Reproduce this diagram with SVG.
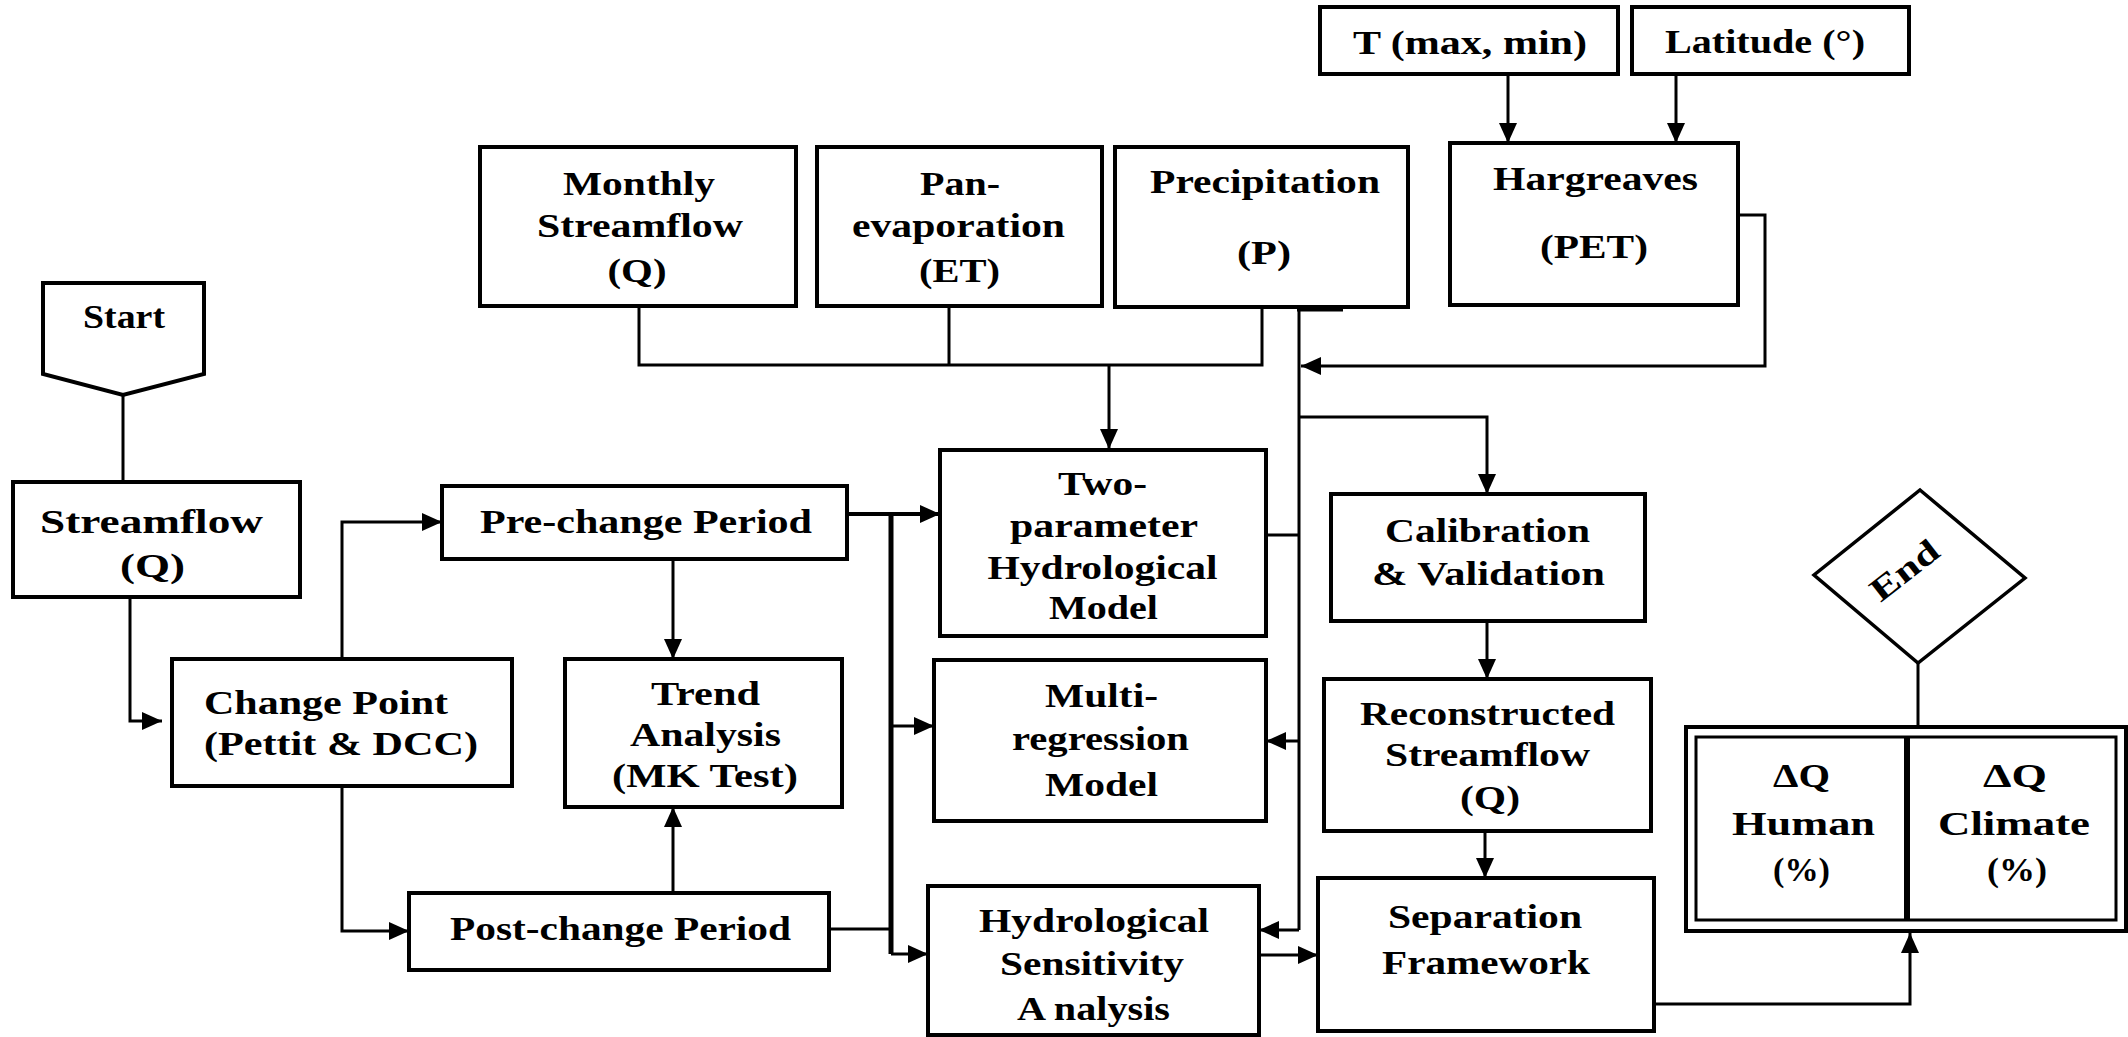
<svg xmlns="http://www.w3.org/2000/svg" width="2128" height="1037" viewBox="0 0 2128 1037">
<style>
.box{fill:#fff;stroke:#000;stroke-width:4}
.t{font-family:"Liberation Serif","Times New Roman",serif;font-weight:bold;font-size:33px;fill:#000;text-anchor:middle}
.c{fill:none;stroke:#000;stroke-width:3}
.a{marker-end:url(#ah)}
</style>
<defs>
<marker id="ah" markerUnits="userSpaceOnUse" markerWidth="22" markerHeight="18" refX="20" refY="9" orient="auto">
<path d="M0,0 L20,9 L0,18 Z" fill="#000"/>
</marker>
</defs>
<rect width="2128" height="1037" fill="#fff"/>

<g id="connectors">
<!-- start to streamflow -->
<path class="c" d="M123,395 V482"/>
<path class="c a" d="M130,597 V721 H162"/>
<path class="c a" d="M342,659 V522 H442"/>
<path class="c a" d="M342,786 V931 H409"/>
<path class="c a" d="M673,559 V659"/>
<path class="c a" d="M673,893 V807"/>
<path class="c a" d="M847,514 H940" style="stroke-width:4"/>
<path class="c" d="M891,514 V954" style="stroke-width:5"/>
<path class="c a" d="M891,726 H934"/>
<path class="c a" d="M891,954 H928"/>
<path class="c" d="M829,929 H891"/>
<!-- top inputs -->
<path class="c" d="M639,306 V365 H1262 V308"/>
<path class="c" d="M949,306 V365"/>
<path class="c a" d="M1109,365 V449"/>
<path class="c a" d="M1508,74 V143"/>
<path class="c a" d="M1676,74 V143"/>
<path class="c a" d="M1738,215 H1765 V366 H1301"/>
<path class="c" d="M1297,309 H1343" style="stroke-width:5"/>
<path class="c" d="M1299,309 V930"/>
<path class="c a" d="M1299,417 H1487 V494"/>
<path class="c" d="M1266,535 H1299"/>
<path class="c a" d="M1299,741 H1266"/>
<path class="c a" d="M1299,930 H1259"/>
<path class="c a" d="M1259,955 H1318"/>
<path class="c a" d="M1487,621 V679"/>
<path class="c a" d="M1485,831 V878"/>
<path class="c a" d="M1654,1004 H1910 V933"/>
<path class="c" d="M1918,663 V727"/>
</g>

<g id="start">
<path class="box" d="M43,283 H204 V374 L123,395 L43,374 Z"/>
<text class="t" x="124" y="328" font-size="30" textLength="82" lengthAdjust="spacingAndGlyphs">Start</text>
</g>

<g id="streamflow">
<rect class="box" x="13" y="482" width="287" height="115"/>
<text class="t" x="151.5" y="533" textLength="223" lengthAdjust="spacingAndGlyphs">Streamflow</text>
<text class="t" x="152.5" y="577" textLength="65" lengthAdjust="spacingAndGlyphs">(Q)</text>
</g>

<g id="changepoint">
<rect class="box" x="172" y="659" width="340" height="127"/>
<text class="t" x="326" y="714" textLength="244" lengthAdjust="spacingAndGlyphs">Change Point</text>
<text class="t" x="341" y="755" textLength="274" lengthAdjust="spacingAndGlyphs">(Pettit &amp; DCC)</text>
</g>

<g id="prechange">
<rect class="box" x="442" y="486" width="405" height="73"/>
<text class="t" x="646" y="533" textLength="332" lengthAdjust="spacingAndGlyphs">Pre-change Period</text>
</g>

<g id="trend">
<rect class="box" x="565" y="659" width="277" height="148"/>
<text class="t" x="705.5" y="705" textLength="109" lengthAdjust="spacingAndGlyphs">Trend</text>
<text class="t" x="705.5" y="746" textLength="151" lengthAdjust="spacingAndGlyphs">Analysis</text>
<text class="t" x="705" y="787" textLength="186" lengthAdjust="spacingAndGlyphs">(MK Test)</text>
</g>

<g id="postchange">
<rect class="box" x="409" y="893" width="420" height="77"/>
<text class="t" x="620.5" y="940" textLength="341" lengthAdjust="spacingAndGlyphs">Post-change Period</text>
</g>

<g id="monthly">
<rect class="box" x="480" y="147" width="316" height="159"/>
<text class="t" x="639" y="195" textLength="152" lengthAdjust="spacingAndGlyphs">Monthly</text>
<text class="t" x="640" y="237" textLength="206" lengthAdjust="spacingAndGlyphs">Streamflow</text>
<text class="t" x="637" y="282" textLength="59" lengthAdjust="spacingAndGlyphs">(Q)</text>
</g>

<g id="panevap">
<rect class="box" x="817" y="147" width="285" height="159"/>
<text class="t" x="960" y="195" textLength="80" lengthAdjust="spacingAndGlyphs">Pan-</text>
<text class="t" x="958.5" y="237" textLength="213" lengthAdjust="spacingAndGlyphs">evaporation</text>
<text class="t" x="959.5" y="282" textLength="81" lengthAdjust="spacingAndGlyphs">(ET)</text>
</g>

<g id="precip">
<rect class="box" x="1115" y="147" width="293" height="160"/>
<text class="t" x="1265" y="193" textLength="230" lengthAdjust="spacingAndGlyphs">Precipitation</text>
<text class="t" x="1264" y="264" textLength="54" lengthAdjust="spacingAndGlyphs">(P)</text>
</g>

<g id="hargreaves">
<rect class="box" x="1450" y="143" width="288" height="162"/>
<text class="t" x="1595.5" y="190" textLength="205" lengthAdjust="spacingAndGlyphs">Hargreaves</text>
<text class="t" x="1594" y="258" textLength="108" lengthAdjust="spacingAndGlyphs">(PET)</text>
</g>

<g id="tmaxmin">
<rect class="box" x="1320" y="7" width="298" height="67"/>
<text class="t" x="1470" y="54" font-size="34" textLength="234" lengthAdjust="spacingAndGlyphs">T (max, min)</text>
</g>

<g id="latitude">
<rect class="box" x="1632" y="7" width="277" height="67"/>
<text class="t" x="1765" y="53" font-size="34" textLength="200" lengthAdjust="spacingAndGlyphs">Latitude (°)</text>
</g>

<g id="twoparam">
<rect class="box" x="940" y="450" width="326" height="186"/>
<text class="t" x="1102.5" y="495" textLength="89" lengthAdjust="spacingAndGlyphs">Two-</text>
<text class="t" x="1104" y="537" textLength="188" lengthAdjust="spacingAndGlyphs">parameter</text>
<text class="t" x="1102.5" y="579" textLength="230" lengthAdjust="spacingAndGlyphs">Hydrological</text>
<text class="t" x="1103.5" y="619" textLength="109" lengthAdjust="spacingAndGlyphs">Model</text>
</g>

<g id="multireg">
<rect class="box" x="934" y="660" width="332" height="161"/>
<text class="t" x="1101.5" y="707" textLength="113" lengthAdjust="spacingAndGlyphs">Multi-</text>
<text class="t" x="1100.5" y="750" textLength="177" lengthAdjust="spacingAndGlyphs">regression</text>
<text class="t" x="1101.5" y="796" textLength="113" lengthAdjust="spacingAndGlyphs">Model</text>
</g>

<g id="sensitivity">
<rect class="box" x="928" y="886" width="331" height="149"/>
<text class="t" x="1094" y="932" textLength="230" lengthAdjust="spacingAndGlyphs">Hydrological</text>
<text class="t" x="1092" y="975" textLength="184" lengthAdjust="spacingAndGlyphs">Sensitivity</text>
<text class="t" x="1093.5" y="1020" textLength="153" lengthAdjust="spacingAndGlyphs">A nalysis</text>
</g>

<g id="calibration">
<rect class="box" x="1331" y="494" width="314" height="127"/>
<text class="t" x="1487.5" y="542" textLength="205" lengthAdjust="spacingAndGlyphs">Calibration</text>
<text class="t" x="1488.5" y="585" textLength="233" lengthAdjust="spacingAndGlyphs">&amp; Validation</text>
</g>

<g id="reconstructed">
<rect class="box" x="1324" y="679" width="327" height="152"/>
<text class="t" x="1487.5" y="725" textLength="255" lengthAdjust="spacingAndGlyphs">Reconstructed</text>
<text class="t" x="1487.5" y="766" textLength="205" lengthAdjust="spacingAndGlyphs">Streamflow</text>
<text class="t" x="1490" y="809" textLength="60" lengthAdjust="spacingAndGlyphs">(Q)</text>
</g>

<g id="separation">
<rect class="box" x="1318" y="878" width="336" height="153"/>
<text class="t" x="1485" y="928" textLength="194" lengthAdjust="spacingAndGlyphs">Separation</text>
<text class="t" x="1486" y="974" textLength="208" lengthAdjust="spacingAndGlyphs">Framework</text>
</g>

<g id="end">
<path class="box" d="M1920,490 L2025,578 L1918,663 L1814,575 Z" style="stroke-width:3.5"/>
<text class="t" font-size="28" textLength="78" lengthAdjust="spacingAndGlyphs" transform="translate(1905,571) rotate(-38)" x="0" y="10">End</text>
</g>

<g id="result">
<rect x="1686" y="727" width="440" height="204" fill="#fff" stroke="#000" stroke-width="4"/>
<rect x="1696" y="737" width="420" height="183" fill="none" stroke="#000" stroke-width="3"/>
<line x1="1907" y1="737" x2="1907" y2="920" stroke="#000" stroke-width="6"/>
<text class="t" x="1801.5" y="787" font-size="31" textLength="57" lengthAdjust="spacingAndGlyphs">ΔQ</text>
<text class="t" x="1803.5" y="835" font-size="31" textLength="143" lengthAdjust="spacingAndGlyphs">Human</text>
<text class="t" x="1801.5" y="881" font-size="31" textLength="57" lengthAdjust="spacingAndGlyphs">(%)</text>
<text class="t" x="2015" y="787" font-size="31" textLength="64" lengthAdjust="spacingAndGlyphs">ΔQ</text>
<text class="t" x="2014" y="835" font-size="31" textLength="152" lengthAdjust="spacingAndGlyphs">Climate</text>
<text class="t" x="2017" y="881" font-size="31" textLength="60" lengthAdjust="spacingAndGlyphs">(%)</text>
</g>
</svg>
